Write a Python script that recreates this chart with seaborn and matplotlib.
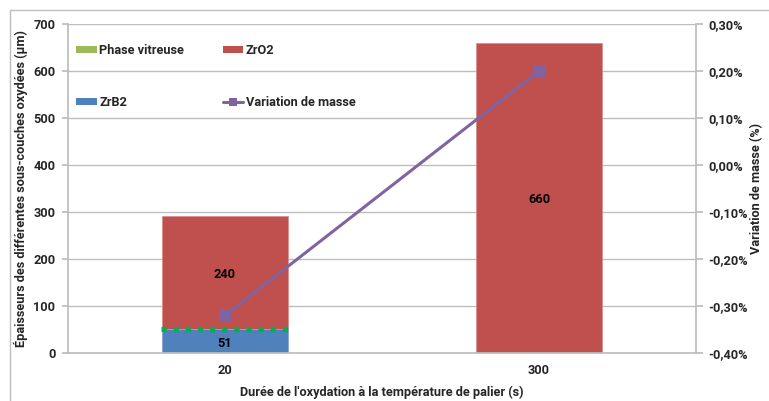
import matplotlib
matplotlib.use("Agg")
import matplotlib.pyplot as plt
import seaborn as sns
import pandas as pd
from matplotlib.lines import Line2D
from matplotlib.patches import Patch

categories = ["20", "300"]
zrb2 = [51, 0]
zro2 = [240, 660]
phase_vitreuse = [51, None]
variation_masse = [-0.32, 0.20]

left_ticks = [0, 100, 200, 300, 400, 500, 600, 700]
right_ticks = [-0.40, -0.30, -0.20, -0.10, 0.00, 0.10, 0.20, 0.30]

sns.set_theme(style="white")
plt.rcParams['font.family'] = ['Roboto', 'DejaVu Sans']
plt.rcParams['font.weight'] = 'bold'

RED = "#C0504D"
BLUE = "#4F81BD"
GREEN_LEG = "#9BBB59"
GREEN = "#00B050"
PURPLE = "#8064A2"
GRID = "#BDBDBD"
FS = 9.2

fig = plt.figure(figsize=(7.69, 4.01), dpi=100)
W, H = 769, 401
ax = fig.add_axes([68 / W, 1 - 353 / H, (696 - 68) / W, (353 - 24) / H])

df = pd.DataFrame({
    "cat": categories,
    "total": [a + b for a, b in zip(zrb2, zro2)],
    "zrb2": zrb2,
})

sns.barplot(data=df, x="cat", y="total", color=RED, width=0.4, ax=ax,
            saturation=1, edgecolor="#D98E8C", linewidth=0.6)
sns.barplot(data=df, x="cat", y="zrb2", color=BLUE, width=0.4, ax=ax,
            saturation=1, edgecolor="#8FAED6", linewidth=0.6)

# phase vitreuse: dotted green line at top of ZrB2
for i, v in enumerate(phase_vitreuse):
    if v is not None:
        ax.plot([i - 0.205, i + 0.215], [v, v], color=GREEN, lw=3.8,
                linestyle=(0, (1.0, 1.3)), dash_capstyle="butt", zorder=5)

# data labels
for i in range(len(categories)):
    if zrb2[i] > 0:
        ax.text(i, zrb2[i] / 2 - 6, str(zrb2[i]), ha="center", va="center",
                fontsize=FS, fontweight="bold", color="black", zorder=6)
    ax.text(i, zrb2[i] + zro2[i] / 2 - 4, str(zro2[i]), ha="center", va="center",
            fontsize=FS, fontweight="bold", color="black", zorder=6)

ax.set_ylim(0, 700)
ax.set_xlim(-0.5, 1.5)
ax.set_yticks(left_ticks)
ax.set_yticklabels([str(t) for t in left_ticks], fontsize=FS, fontweight="bold")
ax.set_xticks([0, 1])
ax.set_xticklabels(categories, fontsize=FS, fontweight="bold")
ax.yaxis.grid(True, color=GRID, lw=1)
ax.set_axisbelow(True)
for s in ["top", "right"]:
    ax.spines[s].set_visible(False)
ax.spines["left"].set_color(GRID)
ax.spines["bottom"].set_color(GRID)
ax.tick_params(axis="y", which="both", left=True, length=4, color=GRID, pad=5)
ax.tick_params(axis="x", length=0, pad=8)
ax.set_xlabel("Durée de l'oxydation à la température de palier (s)",
              fontsize=FS, fontweight="bold", labelpad=6)
ax.set_ylabel("Épaisseurs des différentes sous-couches oxydées (µm)",
              fontsize=FS, fontweight="bold", labelpad=3.6)

ax2 = ax.twinx()
ldf = pd.DataFrame({"x": [0, 1], "y": variation_masse})
sns.lineplot(data=ldf, x="x", y="y", ax=ax2, color=PURPLE, lw=2.2,
             marker="s", markersize=8, markeredgewidth=0)
ax2.set_ylim(-0.40, 0.30)
ax2.set_yticks(right_ticks)
ax2.set_yticklabels([f"{t:.2f}%".replace(".", ",") for t in right_ticks],
                    fontsize=FS, fontweight="bold")
for s in ["top", "left", "bottom"]:
    ax2.spines[s].set_visible(False)
ax2.spines["right"].set_color(GRID)
ax2.tick_params(axis="y", right=True, length=5, color=GRID, pad=4)
ax2.set_xlabel("")
ax2.set_ylabel("Variation de masse (%)", fontsize=FS, fontweight="bold", labelpad=1)
ax2.grid(False)
ax.set_xlim(-0.5, 1.5)
ax2.set_xlim(-0.5, 1.5)

handles = [
    Patch(facecolor=GREEN_LEG, edgecolor="none"),
    Patch(facecolor=BLUE, edgecolor="none"),
    Patch(facecolor=RED, edgecolor="none"),
    Line2D([0], [0], color=PURPLE, lw=2.2, marker="s", markersize=6, markeredgewidth=0),
]
labels = ["Phase vitreuse", "ZrB2", "ZrO2", "Variation de masse"]
leg = ax2.legend(handles, labels, ncol=2, loc="upper left",
                 bbox_to_anchor=(-0.005, 0.975), frameon=False,
                 prop={"size": FS, "weight": "bold"},
                 handlelength=1.6, handleheight=0.5, handletextpad=0.2,
                 labelspacing=3.1, columnspacing=3.0)
leg.set_zorder(10)

# chart frame
fig.add_artist(Line2D([10 / W, 10 / W], [0, 1 - 10 / H], color=GRID, lw=1,
                      transform=fig.transFigure))
fig.add_artist(Line2D([10 / W, 1], [1 - 10 / H, 1 - 10 / H], color=GRID, lw=1,
                      transform=fig.transFigure))

fig.savefig("out.png", dpi=100)
